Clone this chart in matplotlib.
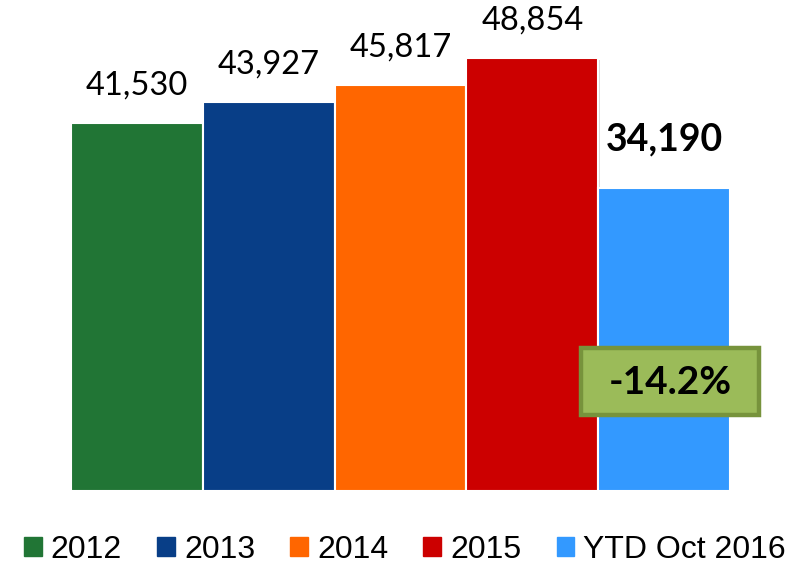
import matplotlib
matplotlib.use('Agg')
import matplotlib.pyplot as plt
from matplotlib.patches import Rectangle
import matplotlib.patheffects as pe

# 数据
labels = ['2012', '2013', '2014', '2015', 'YTD Oct 2016']
values = [41530, 43927, 45817, 48854, 34190]
colors = ['#217535', '#083E87', '#FF6600', '#CC0000', '#3399FF']
change_text = '-14.2%'

W, H = 807, 569
fig = plt.figure(figsize=(W / 100, H / 100), dpi=100)
ax = fig.add_axes([71 / W, 78 / H, (730 - 71) / W, 491 / H])

x = list(range(len(values)))
bars = ax.bar(x, values, width=1.0, color=colors, edgecolor='white', linewidth=1.5)
for b in bars:
    b.set_path_effects([pe.SimplePatchShadow(offset=(1.5, -1.5), shadow_rgbFace='#999999', alpha=0.35),
                        pe.Normal()])

ax.set_xlim(-0.5, len(values) - 0.5)
ax.set_ylim(0, 55400)
ax.axis('off')

# 数据标签
for i, v in enumerate(values):
    bold = (i == len(values) - 1)
    ax.annotate(f'{v:,}', (i, v), xytext=(0, 23 if bold else 16),
                textcoords='offset points', ha='center', va='bottom',
                fontsize=27 if bold else 23.5, fontweight='bold' if bold else 'normal',
                family=['Lato', 'DejaVu Sans'], color='black')

# 变化率框
box = Rectangle((581 / W, 1 - 415 / H), (759 - 581) / W, (415 - 348) / H,
                transform=fig.transFigure, fc='#9BBB59', ec='#77933C', lw=3.2)
fig.add_artist(box)
fig.text(670 / W, 1 - 383 / H, change_text, ha='center', va='center',
         fontsize=28, fontweight='bold', family=['Lato', 'DejaVu Sans'])

# 图例
handles = [Rectangle((0, 0), 1, 1, color=c) for c in colors]
fig.legend(handles, labels, loc='center', bbox_to_anchor=(405 / W, 1 - 550 / H), ncol=5,
           frameon=False, handlelength=0.56, handleheight=0.56, handletextpad=0.28,
           columnspacing=1.1, borderpad=0, prop={'family': ['Liberation Sans', 'DejaVu Sans'], 'size': 23})

fig.savefig('out.png', dpi=100)
